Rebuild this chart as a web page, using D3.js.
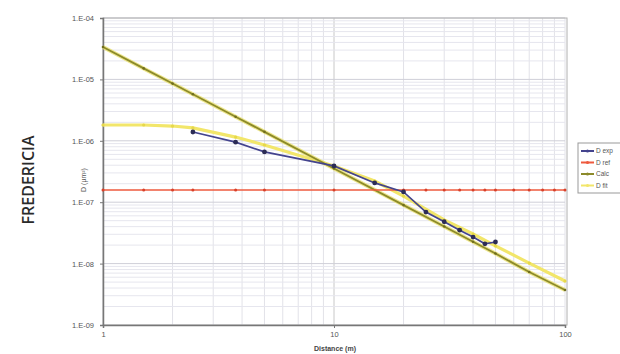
<!DOCTYPE html>
<html>
<head>
<meta charset="utf-8">
<script src="https://cdn.jsdelivr.net/npm/d3@7"></script>
<style>
  body { margin: 0; background: #fff; }
  svg { display: block; font-family: Arial, "Liberation Sans", sans-serif; }
</style>
</head>
<body>
<div id="chart"></div>
<script>
// x positions (m) and series values
const xRed = [1, 1.5, 2, 2.45, 3.75, 5, 10, 20, 25, 30, 35, 40, 45, 50, 60, 70, 80, 90, 100];
const dRef = [1.58e-7, 1.58e-7, 1.58e-7, 1.58e-7, 1.58e-7, 1.58e-7, 1.58e-7, 1.58e-7, 1.58e-7, 1.58e-7,
              1.58e-7, 1.58e-7, 1.58e-7, 1.58e-7, 1.58e-7, 1.58e-7, 1.58e-7, 1.58e-7, 1.58e-7];

const xExp = [2.45, 3.75, 5, 10, 15, 20, 25, 30, 35, 40, 45, 50];
const dExp = [1.39e-6, 9.5e-7, 6.6e-7, 3.9e-7, 2.06e-7, 1.47e-7, 6.9e-8, 4.8e-8, 3.5e-8, 2.7e-8, 2.1e-8, 2.25e-8];

const xCalc = [1, 1.5, 2, 2.45, 3.75, 5, 10, 20, 30, 40, 50, 70, 100];
const dCalc = [3.37e-5, 1.51e-5, 8.55e-6, 5.72e-6, 2.47e-6, 1.40e-6, 3.54e-7, 8.97e-8, 4.02e-8, 2.27e-8, 1.46e-8, 7.3e-9, 3.71e-9];

const xFit = [1, 1.5, 2, 2.45, 3.75, 5, 10, 15, 20, 30, 40, 50, 70, 100];
const dFit = [1.81e-6, 1.81e-6, 1.74e-6, 1.62e-6, 1.15e-6, 8.55e-7, 3.89e-7, 2.21e-7, 1.26e-7, 5.13e-8, 3.03e-8, 1.94e-8, 1.02e-8, 5.2e-9];

const yTicks = [1e-9, 1e-8, 1e-7, 1e-6, 1e-5, 1e-4];
const yTickLabels = ["1.E-09", "1.E-08", "1.E-07", "1.E-06", "1.E-05", "1.E-04"];
const xTicks = [1, 10, 100];
const legendNames = ["D exp", "D ref", "Calc", "D fit"];

const width = 620, height = 354;
const svg = d3.select("#chart").append("svg").attr("width", width).attr("height", height);

const x = d3.scaleLog().domain([1, 100]).range([103, 565]);
const y = d3.scaleLog().domain([1e-9, 1e-4]).range([325, 18]);

// grid
const grid = svg.append("g");
const xMinor = [];
[1, 10].forEach(b => { for (let k = 1; k < 10; k++) xMinor.push(b * k); });
xMinor.push(100);
grid.selectAll(".vx").data(xMinor).enter().append("line")
  .attr("x1", d => x(d)).attr("x2", d => x(d))
  .attr("y1", y(1e-4)).attr("y2", y(1e-9))
  .attr("stroke", d => d === 10 ? "#c8c8c8" : "#e2e2e8").attr("stroke-width", 1);

const yMinor = [];
yTicks.slice(0, -1).forEach(b => { for (let k = 1; k < 10; k++) yMinor.push(b * k); });
yMinor.push(1e-4);
grid.selectAll(".hy").data(yMinor).enter().append("line")
  .attr("x1", x(1)).attr("x2", x(100))
  .attr("y1", d => y(d)).attr("y2", d => y(d))
  .attr("stroke", d => yTicks.includes(d) ? "#cfcfd8" : "#e6e6ee").attr("stroke-width", 1);

// frame
svg.append("rect").attr("x", x(1)).attr("y", y(1e-4))
  .attr("width", x(100) - x(1) + 2).attr("height", y(1e-9) - y(1e-4))
  .attr("fill", "none").attr("stroke", "#b0b0b0");

// axes
const yAxis = d3.axisLeft(y).tickValues(yTicks).tickSize(3)
  .tickFormat((d, i) => yTickLabels[i]);
const gy = svg.append("g").attr("transform", `translate(${x(1)},0)`).call(yAxis);
gy.selectAll("text").attr("font-size", 7.5).attr("fill", "#555").attr("dx", -3);
gy.select(".domain").attr("stroke", "#777").attr("stroke-width", 1.5);
gy.selectAll(".tick line").attr("stroke", "#777");

const xAxis = d3.axisBottom(x).tickValues(xTicks).tickSize(3).tickFormat(d3.format("d"));
const gx = svg.append("g").attr("transform", `translate(0,${y(1e-9)})`).call(xAxis);
gx.selectAll("text").attr("font-size", 7.5).attr("fill", "#555").attr("dy", 6);
gx.select(".domain").attr("stroke", "#777").attr("stroke-width", 1.5);
gx.selectAll(".tick line").attr("stroke", "#777");

// axis titles
svg.append("text").attr("x", 335).attr("y", 351).attr("text-anchor", "middle")
  .attr("font-size", 7).attr("font-weight", "bold").attr("fill", "#444").text("Distance (m)");
svg.append("text").attr("transform", "translate(86,180) rotate(-90)").attr("text-anchor", "middle")
  .attr("font-size", 7).attr("fill", "#555").text("D (µm²)");
svg.append("text").attr("transform", "translate(34,180) rotate(-90)").attr("text-anchor", "middle")
  .attr("font-family", "'Open Sans', sans-serif").attr("font-weight", 600)
  .attr("font-size", 16).attr("fill", "#2a2a2a").text("FREDERICIA");

// series
const line = d3.line().x(d => x(d[0])).y(d => y(d[1]));
const zip = (a, b) => a.map((v, i) => [v, b[i]]);

const series = [
  { pts: zip(xFit, dFit), color: "#f2e66a", width: 3.2, marker: "#e6d84a", r: 1.6 },
  { pts: zip(xCalc, dCalc), color: "#8c8a2a", width: 1.8, marker: "#6f6d1e", r: 1.3, glow: "#e8e070" },
  { pts: zip(xRed, dRef), color: "#ee5a3e", width: 1.6, marker: "#d8402a", r: 1.5 },
  { pts: zip(xExp, dExp), color: "#44448e", width: 1.7, marker: "#2c2c55", r: 2.4 }
];

series.forEach(s => {
  if (s.glow) {
    svg.append("path").datum(s.pts).attr("d", line).attr("fill", "none")
      .attr("stroke", s.glow).attr("stroke-width", 4).attr("opacity", 0.8);
  }
  svg.append("path").datum(s.pts).attr("d", line).attr("fill", "none")
    .attr("stroke", s.color).attr("stroke-width", s.width);
  svg.append("g").selectAll("circle").data(s.pts).enter().append("circle")
    .attr("cx", d => x(d[0])).attr("cy", d => y(d[1])).attr("r", s.r).attr("fill", s.marker);
});

// legend
const legendColors = ["#44448e", "#ee5a3e", "#8c8a2a", "#f2e66a"];
const lg = svg.append("g").attr("transform", "translate(578,143)");
lg.append("rect").attr("width", 50).attr("height", 50).attr("fill", "#fff").attr("stroke", "#999");
legendNames.forEach((n, i) => {
  const yy = 8 + i * 11.5;
  lg.append("line").attr("x1", 3).attr("x2", 16).attr("y1", yy).attr("y2", yy)
    .attr("stroke", legendColors[i]).attr("stroke-width", 2);
  lg.append("circle").attr("cx", 9.5).attr("cy", yy).attr("r", 1.5).attr("fill", legendColors[i]);
  lg.append("text").attr("x", 18).attr("y", yy + 2).attr("font-size", 6.5).attr("fill", "#555").text(n);
});
</script>
</body>
</html>
